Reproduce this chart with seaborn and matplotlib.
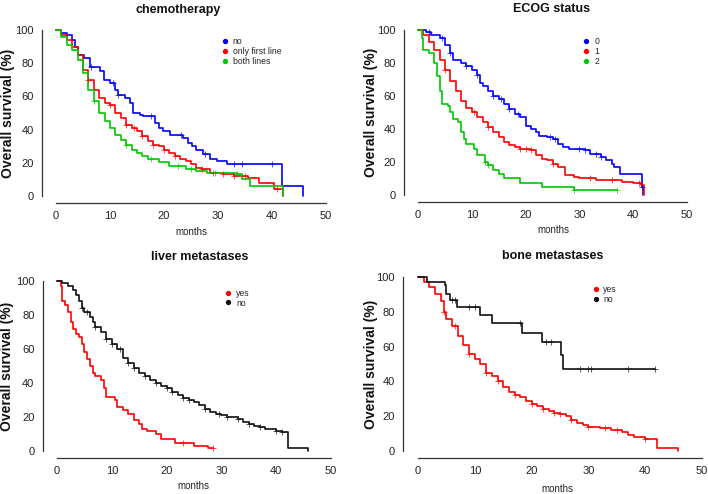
import numpy as np
import pandas as pd
import matplotlib
matplotlib.use("Agg")
import matplotlib.pyplot as plt
from matplotlib.lines import Line2D
import seaborn as sns

# ---- data (months, survival %) ----
chemo_no_t = [0, 1, 2, 2.9, 3.5, 4.1, 5.1, 6.3, 8.1, 8.8, 10, 10.9, 11.5, 12.8, 13.7, 14.3, 15.6, 16.2,
              18.3, 19, 19.9, 21.1, 23.6, 24.5, 25.1, 26, 27.3, 28.5, 29.8, 31.6, 41.8, 45.7]
chemo_no_s = [100, 98, 97, 94, 90, 85, 83, 78, 75, 70, 68, 64, 61, 59, 56, 50, 49, 48,
              44, 41, 39, 37, 35, 32, 30, 28, 25, 22, 21, 19, 6, 0]
chemo_first_t = [0, 1, 2, 3, 4, 5, 6, 7, 8, 9, 10, 11, 12, 13, 14, 15, 16, 17, 18, 19, 20, 21, 22,
                 23, 24, 25, 26, 27, 28.5, 31, 33, 35.5, 37.5, 40.3, 42]
chemo_first_s = [100, 97, 94, 90, 85, 76, 70, 64, 59, 56, 55, 50, 47, 43, 41, 39, 36, 33, 31, 30, 28, 26, 24,
                 22, 21, 19, 17, 16, 14, 13, 12, 11, 8, 4, 0]
chemo_both_t = [0, 1, 2, 3, 4, 5, 6, 7, 8, 9, 10, 11, 12, 13, 14, 15, 16, 17, 19, 21, 24, 26, 28,
                33.5, 34.5, 36, 42]
chemo_both_s = [100, 96, 91, 88, 82, 74, 64, 57, 50, 45, 41, 37, 34, 31, 28, 26, 24, 22, 20.5, 18, 16, 15, 14,
                13, 10, 6, 0]

ecog0_t = [0, 1.5, 2.5, 4, 5, 6, 6.5, 8, 9, 10, 11, 11.5, 12, 13, 14, 15, 16, 17, 18, 19, 20, 21, 22,
           22.5, 24, 25, 26, 27, 28, 31, 32, 34, 35, 36, 36.5, 37.6, 41.6, 41.9]
ecog0_s = [100, 99, 97, 95, 91, 86, 82, 80, 78, 76, 73, 68, 66, 63, 60, 58, 55, 52, 49, 47, 42, 40, 38,
           36, 35, 34, 31, 29, 28, 27, 25, 23, 21, 19, 17, 13, 5, 0]
ecog1_t = [0, 1, 2, 3, 4, 5, 6, 7, 8, 9, 10, 11, 12, 13, 14, 15, 16, 17, 18, 19, 21, 22, 23, 24, 25,
           26, 27.3, 29, 30, 33, 38, 40, 41.5, 42]
ecog1_s = [100, 97, 93, 88, 82, 76, 69, 63, 57, 53, 50, 47, 44, 41, 38, 35, 32, 30, 29, 28, 27, 24, 22, 21, 19,
           17, 12, 11, 10, 9, 8, 7, 6, 0]
ecog2_t = [0, 0.7, 1, 2, 3, 3.5, 4, 4.5, 5.5, 6, 6.5, 7.5, 8, 8.5, 9, 10.5, 11, 12.5, 13, 14, 15, 16,
           19, 23, 29, 37]
ecog2_s = [100, 95, 88, 86, 80, 72, 63, 55, 54, 50, 46, 44, 38, 34, 31, 28, 24, 20, 18, 15, 13, 10,
           7, 5, 3, 3]

liver_yes_t = [0, 0.7, 1, 1.5, 2, 2.5, 3, 3.5, 4, 4.5, 5, 5.5, 6, 6.5, 7, 8, 8.5, 9, 10.5, 11, 12, 13,
               14, 15, 15.5, 16.5, 18, 19, 21.5, 25, 27.5, 28.5]
liver_yes_s = [100, 97, 88, 86, 82, 76, 72, 69, 67, 63, 58, 54, 50, 46, 44, 42, 37, 32, 30, 26, 24, 22,
               18, 16, 13, 12, 10, 7, 5, 3, 2, 2]
liver_no_t = [0, 1, 2, 3, 3.5, 4, 4.5, 5, 6, 6.5, 7, 8, 9, 10, 11, 12, 13, 14, 15, 16, 17, 18, 19, 20,
              21, 22, 23, 24, 25, 26, 27, 28, 29, 30, 31, 33, 34, 35, 36, 37, 38, 40, 41, 42.1, 45.8]
liver_no_s = [100, 99, 97, 95, 92, 88, 84, 82, 79, 76, 73, 70, 66, 63, 60, 55, 52, 49, 46, 44, 42, 40, 38, 37,
              35, 33, 31, 30, 29, 27, 25, 23, 22, 21, 20, 19, 17, 16, 15, 14, 13, 12, 11, 2, 0]

bone_yes_t = [0, 1, 2, 3, 4, 4.5, 5, 6, 7, 8, 9, 10, 11, 12, 13, 14, 15, 16, 17, 18, 19, 20, 21, 22,
              23, 24, 25, 26, 27, 28, 29, 30, 32, 34, 36, 37, 38, 40, 42, 45.8]
bone_yes_s = [100, 97, 94, 90, 86, 80, 76, 72, 66, 61, 56, 53, 50, 45, 43, 40, 37, 34, 32, 31, 29, 27, 26, 24,
              23, 22, 21, 20, 18, 16, 15, 14, 13, 12, 11, 9, 8, 7, 1.5, 0]
bone_no_t = [0, 1.5, 4.7, 5, 5.7, 6.9, 11, 13.1, 18.3, 21.8, 25.2, 25.5, 41.8]
bone_no_s = [100, 97, 95.5, 90, 87, 83, 78, 73.5, 68, 62.5, 55, 47, 47]

# censoring times (+ marks)
cens_chemo_no = [6.5, 10.5, 11.5, 17.5, 23.2, 27.5, 33, 34.5, 40]
cens_chemo_first = [6, 10, 13, 14.5, 16, 18, 20, 22, 27, 29, 31, 33, 35, 41]
cens_chemo_both = [7, 13, 17.5, 22.5, 25, 29.5, 33.5]
cens_ecog0 = [2, 4.5, 6, 9, 11, 14, 15.5, 17, 18.5, 24.5, 25.5, 30, 31, 33, 34, 41.7]
cens_ecog1 = [5, 10.5, 13, 19, 20, 21, 25, 32, 36, 41]
cens_ecog2 = [12.5, 13, 29, 37]
cens_liver_yes = [23, 28.5]
cens_liver_no = [4.5, 5.5, 7, 9, 10, 11.5, 13, 14, 16, 18, 20, 21, 23, 24, 27, 29.5, 31, 33, 35, 37, 40, 41]
cens_bone_yes = [4.5, 6.5, 9, 12, 14, 17, 20, 22, 24, 25, 27, 30, 33, 35, 40]
cens_bone_no = [6, 6.5, 9, 10, 18, 22.5, 23.5, 28.5, 30, 30.5, 37, 41.8]

titles = ["chemotherapy", "ECOG status", "liver metastases", "bone metastases"]
x_ticks = [0, 10, 20, 30, 40, 50]
y_ticks = [0, 20, 40, 60, 80, 100]

BLUE, RED, GREEN, BLACK = "#0000FF", "#FF0000", "#00C800", "#111111"

panels = [
    dict(title=titles[0], curves=[("no", chemo_no_t, chemo_no_s, cens_chemo_no, BLUE),
                                  ("only first line", chemo_first_t, chemo_first_s, cens_chemo_first, RED),
                                  ("both lines", chemo_both_t, chemo_both_s, cens_chemo_both, GREEN)],
         px=(56, 326, 30, 196), title_xy=(178, 10), ylab_x=8, xlab_xy=(191, 232)),
    dict(title=titles[1], curves=[("0", ecog0_t, ecog0_s, cens_ecog0, BLUE),
                                  ("1", ecog1_t, ecog1_s, cens_ecog1, RED),
                                  ("2", ecog2_t, ecog2_s, cens_ecog2, GREEN)],
         px=(418, 687, 30, 195), title_xy=(552, 9), ylab_x=371, xlab_xy=(553, 230)),
    dict(title=titles[2], curves=[("yes", liver_yes_t, liver_yes_s, cens_liver_yes, RED),
                                  ("no", liver_no_t, liver_no_s, cens_liver_no, BLACK)],
         px=(57, 331, 281, 451), title_xy=(200, 257), ylab_x=7, xlab_xy=(193, 486)),
    dict(title=titles[3], curves=[("yes", bone_yes_t, bone_yes_s, cens_bone_yes, RED),
                                  ("no", bone_no_t, bone_no_s, cens_bone_no, BLACK)],
         px=(418, 702, 277, 451), title_xy=(553, 256), ylab_x=371, xlab_xy=(557, 489)),
]

sns.set_style("white")
plt.rcParams["font.family"] = ["Liberation Sans", "DejaVu Sans"]

W, H = 708, 494
fig = plt.figure(figsize=(W / 100, H / 100), dpi=100)
XLO, XHI, YLO, YHI = -2.6, 52, -4, 104
AX_COL = "#333333"


def step_at(t, s, tc):
    i = np.searchsorted(np.asarray(t), tc, side="right") - 1
    return np.asarray(s)[i]


for p in panels:
    x0, x50, y100, y0 = p["px"]
    pxu = (x50 - x0) / 50
    pyu = (y0 - y100) / 100
    left = x0 + XLO * pxu
    right = x0 + XHI * pxu
    top = y100 - (YHI - 100) * pyu
    bottom = y0 - YLO * pyu
    ax = fig.add_axes([left / W, 1 - bottom / H, (right - left) / W, (bottom - top) / H])

    handles = []
    for label, t, s, cens, col in p["curves"]:
        df = pd.DataFrame({"months": t, "survival": s})
        sns.lineplot(data=df, x="months", y="survival", drawstyle="steps-post", color=col,
                     linewidth=1.2, estimator=None, sort=False, ax=ax)
        cdf = pd.DataFrame({"months": cens, "survival": [step_at(t, s, c) for c in cens]})
        sns.scatterplot(data=cdf, x="months", y="survival", marker="+", s=16, color=col,
                        linewidth=0.7, alpha=0.7, ax=ax, zorder=3)
        handles.append(Line2D([], [], marker="o", ls="", color=col, markersize=2.8, label=label))

    ax.set_xlim(XLO, XHI)
    ax.set_ylim(YLO, YHI)
    ax.set_xticks(x_ticks)
    ax.set_yticks(y_ticks)
    sns.despine(ax=ax)
    ax.spines["left"].set_bounds(0, 100)
    ax.spines["bottom"].set_bounds(0, 50)
    for sp in ("left", "bottom"):
        ax.spines[sp].set_color(AX_COL)
        ax.spines[sp].set_linewidth(0.9)
    ax.tick_params(direction="out", length=4, width=0.8, color=AX_COL, labelsize=8,
                   labelcolor="#222222", pad=2)
    ax.set_xlabel("")
    ax.set_ylabel("")

    leg = ax.legend(handles=handles, loc="upper left", bbox_to_anchor=(30.5, 95.5),
                    bbox_transform=ax.transData, frameon=False, fontsize=6.2,
                    handlelength=1.0, handletextpad=0.4, labelspacing=0.1,
                    borderpad=0, borderaxespad=0)
    for txt in leg.get_texts():
        txt.set_color("#222222")

    tx, ty = p["title_xy"]
    fig.text(tx / W, 1 - ty / H, p["title"], ha="center", va="center",
             fontsize=9, fontweight="bold", color="#111111")
    fig.text(p["ylab_x"] / W, 1 - ((top + bottom) / 2) / H, "Overall survival (%)", rotation=90,
             ha="center", va="center", fontsize=10, fontweight="bold", color="#111111")
    mx, my = p["xlab_xy"]
    fig.text(mx / W, 1 - my / H, "months", ha="center", va="center", fontsize=7, color="#222222")

fig.savefig("out.png", dpi=100)
